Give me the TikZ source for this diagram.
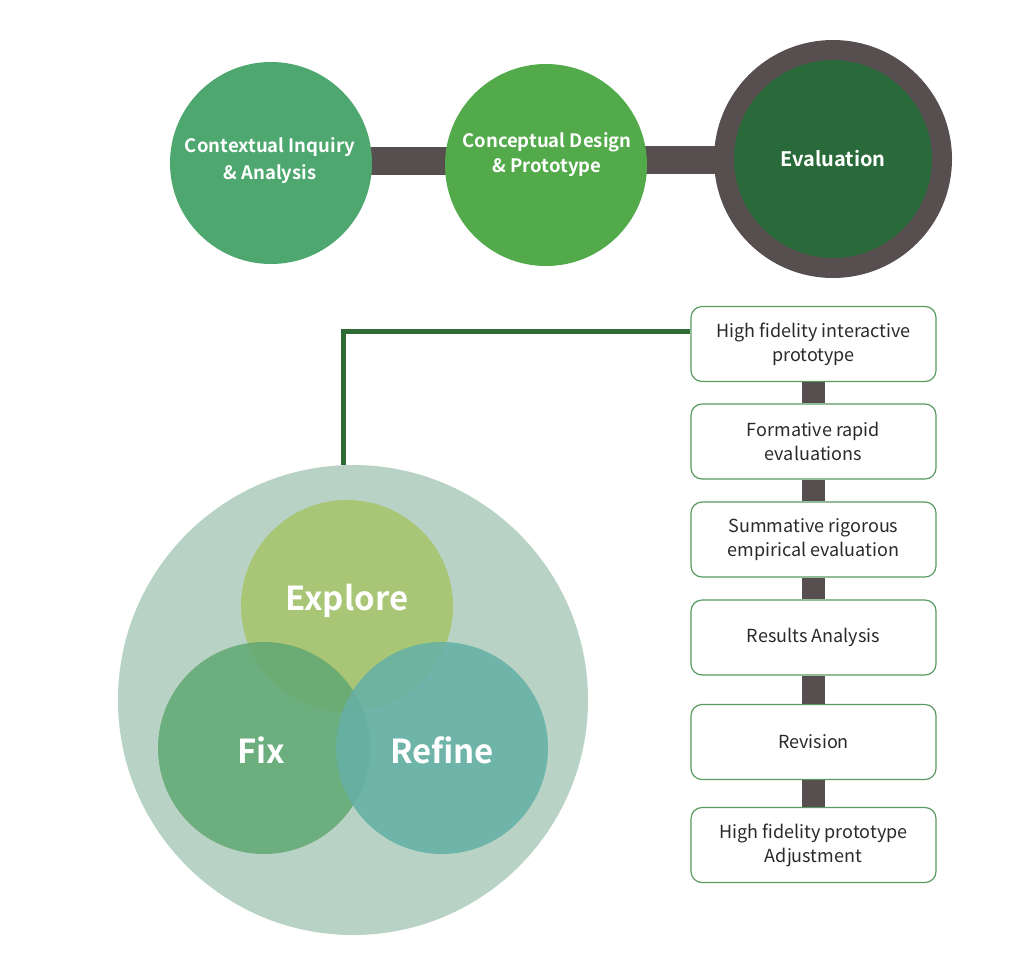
\documentclass[tikz,border=0pt]{standalone}
\usepackage{fontspec}
\newfontfamily\srcfont{Noto Sans CJK SC}
\newfontfamily\srcbold{Noto Sans CJK SC Bold}
\newfontfamily\srcmed{Noto Sans CJK SC Medium}
\definecolor{cA}{HTML}{4EA76F}
\definecolor{cB}{HTML}{52AA4A}
\definecolor{ring}{HTML}{574F4F}
\definecolor{cEval}{HTML}{2A6A3A}
\definecolor{barc}{HTML}{574F4F}
\definecolor{boxedge}{HTML}{5A9A62}
\definecolor{linkc}{HTML}{2E6B35}
\definecolor{bigc}{HTML}{B8D3C5}
\definecolor{cExp}{HTML}{A6C56C}
\definecolor{cFix}{HTML}{62A974}
\definecolor{cRef}{HTML}{66B0A6}
\definecolor{txt}{HTML}{2A2A2A}
\begin{document}
\begin{tikzpicture}[x=1pt,y=-1pt,
  topcirc/.style={circle,minimum size=202pt,inner sep=0pt,text=white,align=center,font=\srcbold\fontsize{18.5}{26}\selectfont},
  venn/.style={circle,minimum size=212pt,inner sep=0pt,fill opacity=0.88,text opacity=1},
  venntext/.style={text=white,font=\srcbold\fontsize{33}{40}\selectfont},
  stepbox/.style={draw=boxedge,line width=1.2pt,rounded corners=11pt,fill=white,minimum width=245pt,minimum height=75pt,align=center,text=txt,font=\srcfont\fontsize{18}{24}\selectfont}]
\useasboundingbox (0,0) rectangle (1014,962);
\fill[white] (0,0) rectangle (1014,962);
% top bars
\fill[barc] (365,147) rectangle (455,175);
\fill[barc] (640,146) rectangle (725,174);
\node[topcirc,fill=cA] (ci) at (271,163) {};
\node[topcirc,fill=cB] (cd) at (546,165) {};
\node[align=center,text=white,font=\srcbold\fontsize{18.5}{26}\selectfont] (cit) at (270,161) {Contextual Inquiry\\[1pt]\& Analysis};
\node[align=center,text=white,font=\srcbold\fontsize{18.5}{26}\selectfont] (cdt) at (547,155) {Conceptual Design\\[-1pt]\& Prototype};
\node[circle,minimum size=218pt,inner sep=0pt,fill=cEval,draw=ring,line width=20pt,text=white,font=\srcbold\fontsize{20}{26}\selectfont] (ev) at (833,159) {Evaluation};
% boxes
\node[stepbox] (b1) at (813.5,344) {High fidelity interactive\\prototype};
\node[stepbox] (b2) at (813.5,441.5) {Formative rapid\\evaluations};
\node[stepbox] (b3) at (813.5,539.5) {Summative rigorous\\empirical evaluation};
\node[stepbox] (b4) at (813.5,637.5) {Results Analysis};
\node[stepbox] (b5) at (813.5,742) {Revision};
\node[stepbox] (b6) at (813.5,845) {High fidelity prototype\\Adjustment};
\foreach \a/\b in {b1/b2,b2/b3,b3/b4,b4/b5,b5/b6}{
  \fill[barc] ([xshift=-11.5pt]\a.south) rectangle ([xshift=11.5pt]\b.north);
}
% big circle
\node[circle,minimum size=470pt,inner sep=0pt,fill=bigc] (big) at (353,700) {};
\draw[linkc,line width=5pt] (b1.west |- 0,331) -- (343,331) -- (343,465);
\node[venn,fill=cExp] (exp) at (347,606) {};
\node[venn,fill=cFix] (fix) at (264,748) {};
\node[venn,fill=cRef] (ref) at (442,748) {};
\node[venntext] (expt) at (347,601) {Explore};
\node[venntext] (fixt) at (261,750) {Fix};
\node[venntext] (reft) at (442,750) {Refine};
\end{tikzpicture}
\end{document}
